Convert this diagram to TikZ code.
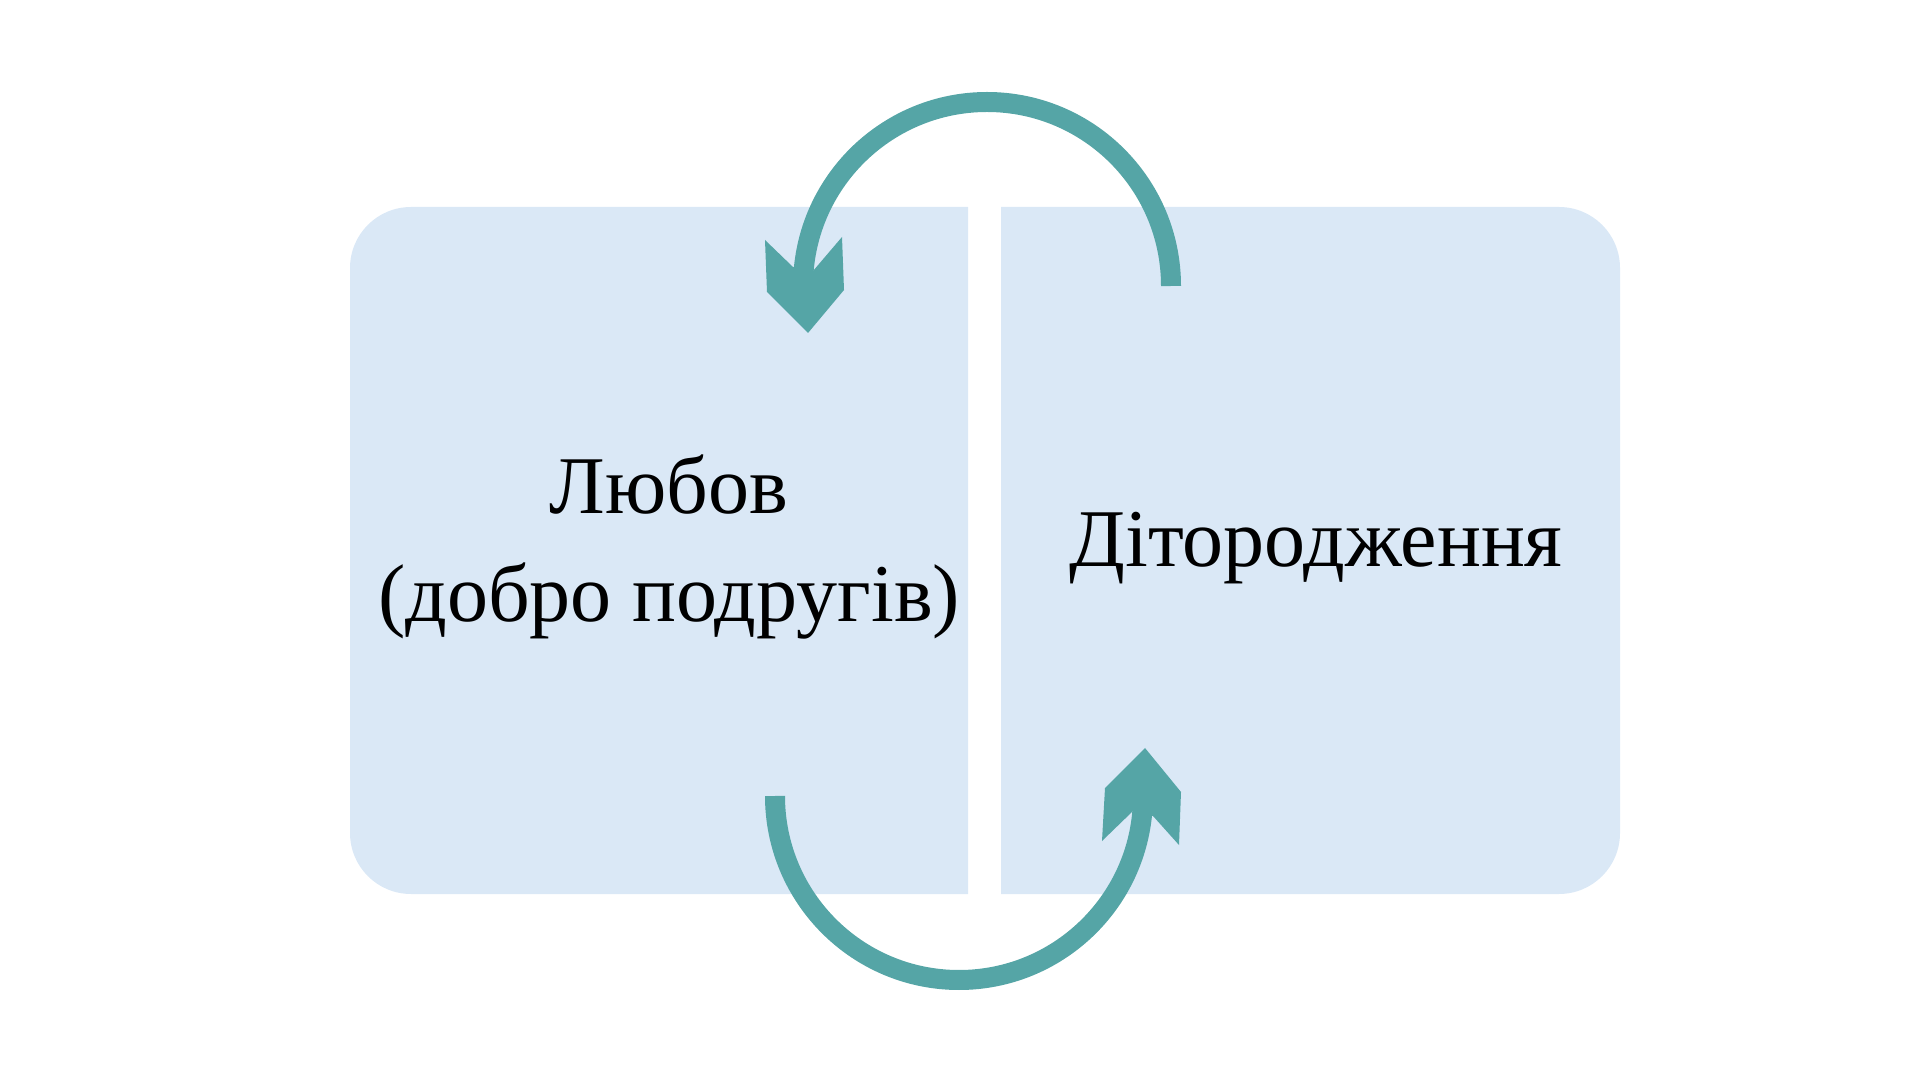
\documentclass[tikz,border=0pt]{standalone}
\usepackage{fontspec}
\setmainfont{Liberation Serif}
\usepackage{xcolor}
\usepackage{tikz}
\definecolor{boxblue}{RGB}{218,232,246}
\definecolor{arrowteal}{RGB}{85,165,166}

\begin{document}
\begin{tikzpicture}[x=1pt, y=1pt]
% Canvas
\useasboundingbox (0,0) rectangle (1920,1080);

% Draw the two halves of the box
\fill[boxblue] (968,186) -- (411,186) arc (270:180:61) -- (350,812) arc (180:90:61) -- (968,873) -- cycle;
\fill[boxblue] (1001,186) -- (1559,186) arc (270:360:61) -- (1620,812) arc (0:90:61) -- (1001,873) -- cycle;

% Texts
\node[align=center, anchor=base, font=\fontsize{82}{108}\selectfont] (love) at (669,458) {Любов\\(добро подругів)};
\node[anchor=base, font=\fontsize{82}{108}\selectfont] (birth) at (1316,513) {Дітородження};

% Upper arrow: from the right half back to the left half
\coordinate (topc) at (987,794);
\draw[arrowteal, line width=20] (1171,794) arc (0:177:184);
\fill[arrowteal] (765,840) -- (793,813) -- (813,809) -- (842,843) -- (844,790) -- (808,747) -- (767,788) -- cycle;

% Lower arrow: from the left half over to the right half
\coordinate (botc) at (959,284);
\draw[arrowteal, line width=20] (775,284) arc (180:357:184);
\fill[arrowteal] (1145,332) -- (1181,288) -- (1179,235) -- (1153,264) -- (1133,269) -- (1102,239) -- (1105,292) -- cycle;
\end{tikzpicture}
\end{document}
